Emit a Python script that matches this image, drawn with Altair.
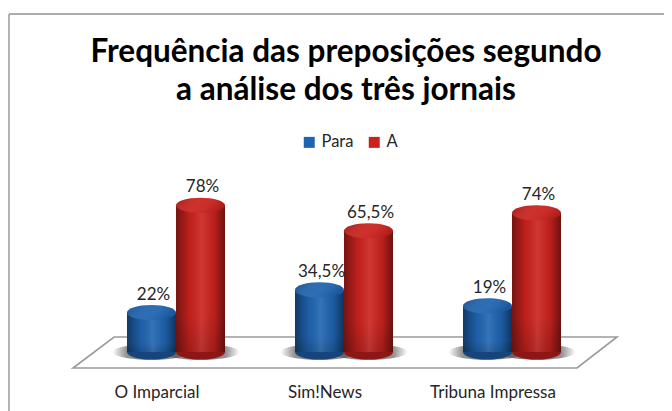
import altair as alt
import pandas as pd

categories = ["O Imparcial", "Sim!News", "Tribuna Impressa"]
series = ["Para", "A"]
para_heights = [21, 33, 24.5]
a_heights = [78, 64.5, 74]
para_labels = ["22%", "34,5%", "19%"]
a_labels = ["78%", "65,5%", "74%"]
series_colors = ["#1f64b0", "#cb221e"]

rows = []
for i, c in enumerate(categories):
    rows.append({"cat": c, "serie": "Para", "v": para_heights[i], "lab": para_labels[i], "zero": 0})
    rows.append({"cat": c, "serie": "A", "v": a_heights[i], "lab": a_labels[i], "zero": 0})
df = pd.DataFrame(rows)

ELLIPSE = ("M-1,0 C-1,-0.17 -0.55,-0.31 0,-0.31 C0.55,-0.31 1,-0.17 1,0 "
           "C1,0.17 0.55,0.31 0,0.31 C-0.55,0.31 -1,0.17 -1,0 Z")
SHADOW = ("M-1,0 C-1,-0.11 -0.55,-0.2 0,-0.2 C0.55,-0.2 1,-0.11 1,0 "
          "C1,0.11 0.55,0.2 0,0.2 C-0.55,0.2 -1,0.11 -1,0 Z")
FLOOR = "M-0.849,-0.057 L1,-0.057 L0.853,0.057 L-1,0.057 Z"
BAR_W = 49

x = alt.X("cat:N", sort=categories, title=None,
          scale=alt.Scale(paddingInner=0, paddingOuter=0),
          axis=alt.Axis(ticks=False, domain=False, labelAngle=0, labelOffset=-19,
                        labelPadding=32, labelFont="Lato", labelFontSize=17,
                        labelColor="#262626", grid=False))
xo = alt.XOffset("serie:N", sort=series,
                 scale=alt.Scale(paddingInner=0, paddingOuter=0.714))
y = alt.Y("v:Q", scale=alt.Scale(domain=[0, 100]), axis=None)
y0 = alt.Y("zero:Q", scale=alt.Scale(domain=[0, 100]), axis=None)
color = alt.Color("serie:N", sort=series, scale=alt.Scale(domain=series, range=series_colors),
                  legend=alt.Legend(title=None, orient="none", legendX=209, legendY=-30,
                                    direction="horizontal", columns=2, symbolType="square",
                                    symbolSize=121, labelFont="Lato", labelFontSize=16.5,
                                    labelColor="#262626", columnPadding=12, symbolStrokeWidth=0))

shade = alt.Gradient(gradient="linear", x1=0, x2=1, y1=0, y2=0, stops=[
    alt.GradientStop(color="rgba(0,0,0,0.42)", offset=0),
    alt.GradientStop(color="rgba(0,0,0,0.06)", offset=0.28),
    alt.GradientStop(color="rgba(255,255,255,0.10)", offset=0.52),
    alt.GradientStop(color="rgba(0,0,0,0.08)", offset=0.78),
    alt.GradientStop(color="rgba(0,0,0,0.48)", offset=1),
])
fade = alt.Gradient(gradient="linear", x1=0, x2=0, y1=0, y2=1, stops=[
    alt.GradientStop(color="rgba(0,0,0,0)", offset=0.75),
    alt.GradientStop(color="rgba(0,0,0,0.15)", offset=1),
])
cap = alt.Gradient(gradient="linear", x1=0, x2=1, y1=0, y2=0.3, stops=[
    alt.GradientStop(color="rgba(0,0,0,0.22)", offset=0),
    alt.GradientStop(color="rgba(255,255,255,0.06)", offset=0.6),
    alt.GradientStop(color="rgba(0,0,0,0.12)", offset=1),
])
shadow_fill = alt.Gradient(gradient="radial", x1=0.5, y1=0.5, r1=0, x2=0.5, y2=0.5, r2=0.5, stops=[
    alt.GradientStop(color="rgba(60,60,60,0.75)", offset=0),
    alt.GradientStop(color="rgba(60,60,60,0.55)", offset=0.65),
    alt.GradientStop(color="rgba(60,60,60,0)", offset=1),
])

base = alt.Chart(df)
one = alt.Chart(alt.Data(values=[{"a": 1}]))
SZ = BAR_W ** 2

floor = one.mark_point(shape=FLOOR, size=544 ** 2, filled=False, opacity=1,
                       stroke="#9a9a9a", strokeWidth=1.6).encode(
    x=alt.value(253), y=alt.value(188.5))
frame_top = one.mark_rule(color="#909090", strokeWidth=1.6).encode(
    x=alt.value(-83), x2=alt.value(580), y=alt.value(-150))
frame_left = one.mark_rule(color="#a0a0a0", strokeWidth=1.6).encode(
    x=alt.value(-83), y=alt.value(-150), y2=alt.value(247))

shadows = base.mark_point(shape=SHADOW, size=78 ** 2, filled=True, opacity=1, fill=shadow_fill).encode(
    x=x, xOffset=xo, y=y0)
bottoms = base.mark_point(shape=ELLIPSE, size=SZ, filled=True, opacity=1).encode(
    x=x, xOffset=xo, y=y0, color=color)
bottoms_dark = base.mark_point(shape=ELLIPSE, size=SZ, filled=True, opacity=1,
                               fill="rgba(0,0,0,0.3)").encode(x=x, xOffset=xo, y=y0)
bars = base.mark_bar(size=BAR_W).encode(x=x, xOffset=xo, y=y, y2=alt.Y2("zero:Q"), color=color)
bars_fade = base.mark_bar(size=BAR_W, color=fade).encode(x=x, xOffset=xo, y=y, y2=alt.Y2("zero:Q"))
bars_shade = base.mark_bar(size=BAR_W, color=shade).encode(x=x, xOffset=xo, y=y, y2=alt.Y2("zero:Q"))
caps = base.mark_point(shape=ELLIPSE, size=SZ, filled=True, opacity=1).encode(
    x=x, xOffset=xo, y=y, color=color)
caps_shade = base.mark_point(shape=ELLIPSE, size=SZ, filled=True, opacity=1, fill=cap).encode(
    x=x, xOffset=xo, y=y)
labels = base.mark_text(font="Lato", fontSize=17, color="#262626", dy=-18, dx=2).encode(
    x=x, xOffset=xo, y=y, text="lab:N")

chart = alt.layer(frame_top, frame_left, floor, shadows, bottoms, bottoms_dark, bars, bars_fade,
                  bars_shade, caps, caps_shade, labels).properties(
    width=504, height=188,
    title=alt.TitleParams(
        text=["Frequência das preposições segundo", "a análise dos três jornais"],
        font="Lato", fontSize=31.5, fontWeight="bold", color="#000000",
        anchor="middle", lineHeight=38, offset=-93, dx=2),
    autosize=alt.AutoSizeParams(type="none"),
    padding={"left": 84, "top": 156, "right": 68, "bottom": 59},
).configure_view(stroke=None).resolve_scale(color="shared")

chart.save("out.html", embed_options={"renderer": "svg", "actions": False})
